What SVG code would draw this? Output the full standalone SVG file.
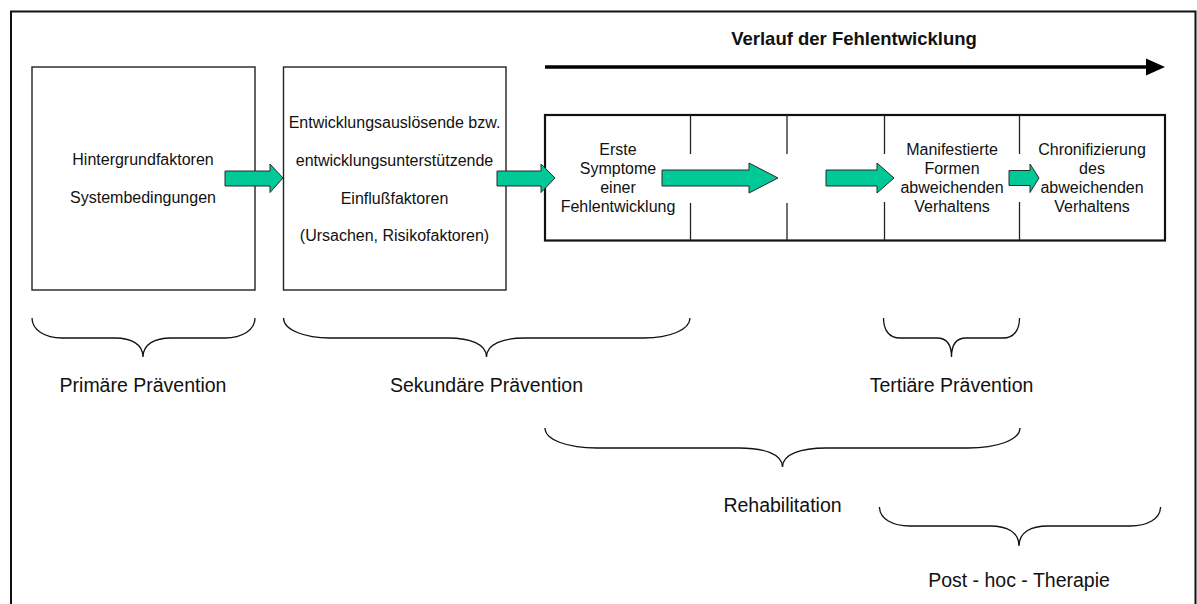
<svg xmlns="http://www.w3.org/2000/svg" width="1197" height="604" viewBox="0 0 1197 604">
  <style>
    .frame { fill: none; stroke: #111; stroke-width: 2; }
    .box { fill: #fff; stroke: #222; stroke-width: 1.4; }
    .stage { fill: #fff; stroke: #111; stroke-width: 2.2; }
    .div { stroke: #222; stroke-width: 1.3; }
    .flow { fill: #00C896; stroke: #2a2a2a; stroke-width: 1; }
    .brace { fill: none; stroke: #111; stroke-width: 1.3; }
    text { font-family: "Liberation Sans", Arial, sans-serif; fill: #111; text-anchor: middle; }
    .t16 { font-size: 16px; }
    .lbl { font-size: 19.5px; }
    .title { font-size: 18.5px; font-weight: bold; }
  </style>

  <rect width="1197" height="604" fill="#fff"/>
  <path class="frame" d="M11,604 L11,11.5 L1195.5,11.5 L1195.5,604"/>

  <!-- time axis -->
  <g id="timeline">
    <text class="title" x="854" y="45">Verlauf der Fehlentwicklung</text>
    <line x1="545" y1="67" x2="1147" y2="67" stroke="#000" stroke-width="3.3"/>
    <polygon points="1146,58.5 1165,67 1146,75.5" fill="#000"/>
  </g>

  <g id="background-factors">
    <rect class="box" x="32" y="67" width="223" height="223"/>
    <text class="t16" x="143" y="165">Hintergrundfaktoren</text>
    <text class="t16" x="143" y="203">Systembedingungen</text>
  </g>

  <g id="influence-factors">
    <rect class="box" x="283.5" y="67" width="222.5" height="223"/>
    <text class="t16" x="394.5" y="128">Entwicklungsauslösende bzw.</text>
    <text class="t16" x="394.5" y="166">entwicklungsunterstützende</text>
    <text class="t16" x="394.5" y="204">Einflußfaktoren</text>
    <text class="t16" x="394.5" y="241">(Ursachen, Risikofaktoren)</text>
  </g>

  <g id="stages">
    <rect class="stage" x="545" y="115" width="620" height="125.5"/>
    <line class="div" x1="690.5" y1="115" x2="690.5" y2="154"/>
    <line class="div" x1="690.5" y1="203" x2="690.5" y2="240"/>
    <line class="div" x1="787" y1="115" x2="787" y2="154"/>
    <line class="div" x1="787" y1="203" x2="787" y2="240"/>
    <line class="div" x1="884.5" y1="115" x2="884.5" y2="154"/>
    <line class="div" x1="884.5" y1="202" x2="884.5" y2="240"/>
    <line class="div" x1="1019.5" y1="115" x2="1019.5" y2="154"/>
    <line class="div" x1="1019.5" y1="202" x2="1019.5" y2="240"/>
  </g>

  <g id="stage-first-symptoms">
    <text class="t16" x="618" y="155">Erste</text>
    <text class="t16" x="618" y="174">Symptome</text>
    <text class="t16" x="618" y="193">einer</text>
    <text class="t16" x="618" y="212">Fehlentwicklung</text>
  </g>

  <g id="stage-manifest">
    <text class="t16" x="952" y="155">Manifestierte</text>
    <text class="t16" x="952" y="174">Formen</text>
    <text class="t16" x="952" y="193">abweichenden</text>
    <text class="t16" x="952" y="212">Verhaltens</text>
  </g>

  <g id="stage-chronic">
    <text class="t16" x="1092" y="155">Chronifizierung</text>
    <text class="t16" x="1092" y="174">des</text>
    <text class="t16" x="1092" y="193">abweichenden</text>
    <text class="t16" x="1092" y="212">Verhaltens</text>
  </g>

  <!-- block arrows between the stages -->
  <g id="connectors">
    <polygon class="flow" points="225,171 270,171 270,164 283,178 270,192.5 270,186 225,186"/>
    <polygon class="flow" points="497,171 541,171 541,164 555,178 541,192.5 541,186 497,186"/>
    <polygon class="flow" points="662,170 749,170 749,163 778,178 749,193 749,186 662,186"/>
    <polygon class="flow" points="826,170 877,170 877,163 894,178 877,193 877,186 826,186"/>
    <polygon class="flow" points="1009,170.5 1030,170.5 1030,164 1039,178 1030,192.5 1030,185.5 1009,185.5"/>
  </g>

  <!-- curly braces grouping the phases -->
  <g id="brace-primary">
    <path class="brace" d="M32,318 C32,330 45,338 62,338 L115,338 C131,338 143,344 143,357 C143,344 155,338 171,338 L225,338 C242,338 255,330 255,318"/>
    <text class="lbl" x="143" y="392">Primäre Prävention</text>
  </g>

  <g id="brace-secondary">
    <path class="brace" d="M283.5,318 C283.5,330 305,338 330,338 L448,338 C470,338 486.5,344 486.5,357 C486.5,344 503,338 525,338 L644,338 C669,338 690,330 690,318"/>
    <text class="lbl" x="486.5" y="392">Sekundäre Prävention</text>
  </g>

  <g id="brace-tertiary">
    <path class="brace" d="M883.5,318 C883.5,330 889,338 900,338 L937,338 C946,338 951.5,344 951.5,357 C951.5,344 957,338 966,338 L1003,338 C1014,338 1019.5,330 1019.5,318"/>
    <text class="lbl" x="951.5" y="392">Tertiäre Prävention</text>
  </g>

  <g id="brace-rehabilitation">
    <path class="brace" d="M545,428 C545,440 568,448 597,448 L739,448 C764,448 782.5,454 782.5,467 C782.5,454 801,448 826,448 L968,448 C997,448 1020,440 1020,428"/>
    <text class="lbl" x="782.5" y="512">Rehabilitation</text>
  </g>

  <g id="brace-posthoc">
    <path class="brace" d="M879.5,507 C879.5,519 893,526 910,526 L990,526 C1007,526 1019,532 1019,546 C1019,532 1031,526 1048,526 L1130,526 C1147,526 1160.5,519 1160.5,507"/>
    <text class="lbl" x="1019" y="587">Post - hoc - Therapie</text>
  </g>
</svg>
